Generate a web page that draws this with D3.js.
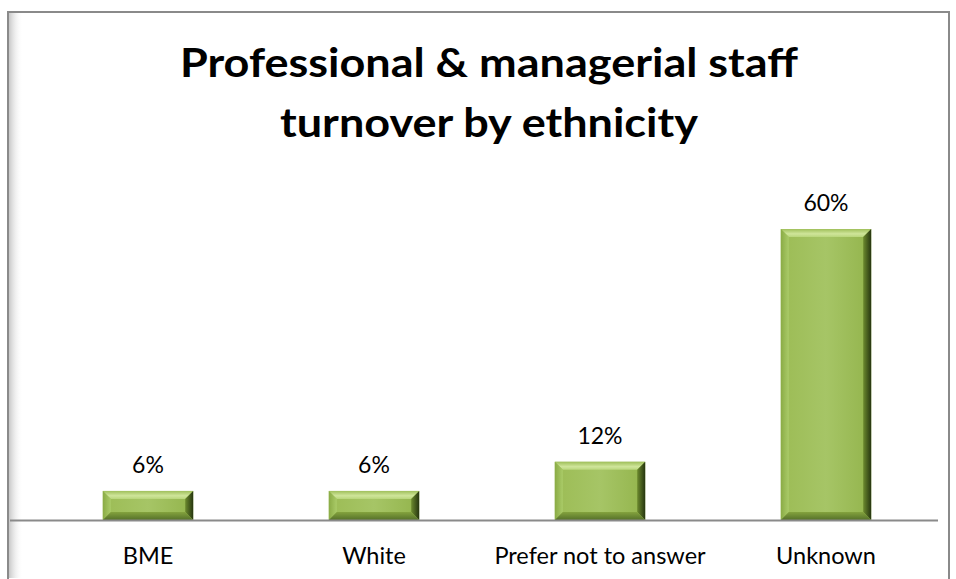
<!DOCTYPE html>
<html>
<head>
<meta charset="utf-8">
<script src="https://cdn.jsdelivr.net/npm/d3@7"></script>
<style>
  html, body { margin: 0; padding: 0; background: #fff; }
  svg { display: block; font-family: Lato, "Open Sans", sans-serif; }
</style>
</head>
<body>
<svg id="chart" width="956" height="579"></svg>
<script>
  const categories = ["BME", "White", "Prefer not to answer", "Unknown"];
  const values = [0.06, 0.06, 0.12, 0.60];
  const titleLines = ["Professional & managerial staff", "turnover by ethnicity"];

  const svg = d3.select("#chart");
  const W = 956, H = 579;

  const defs = svg.append("defs");

  // inner shadow on the left edge of the frame
  const shadow = defs.append("linearGradient").attr("id", "frameShadow");
  shadow.append("stop").attr("offset", "0%").attr("stop-color", "#c8c8c8");
  shadow.append("stop").attr("offset", "100%").attr("stop-color", "#fff").attr("stop-opacity", 0);

  // bar face
  const face = defs.append("linearGradient").attr("id", "barFace");
  face.append("stop").attr("offset", "0%").attr("stop-color", "#9cbc55");
  face.append("stop").attr("offset", "50%").attr("stop-color", "#a6c566");
  face.append("stop").attr("offset", "100%").attr("stop-color", "#93b44c");

  const topBevel = defs.append("linearGradient").attr("id", "barTop")
    .attr("x1", 0).attr("y1", 0).attr("x2", 0).attr("y2", 1);
  topBevel.append("stop").attr("offset", "0%").attr("stop-color", "#9fbf5a");
  topBevel.append("stop").attr("offset", "60%").attr("stop-color", "#cfe59a");
  topBevel.append("stop").attr("offset", "100%").attr("stop-color", "#b9d67c");

  const rightBevel = defs.append("linearGradient").attr("id", "barRight");
  rightBevel.append("stop").attr("offset", "0%").attr("stop-color", "#6c8a2e");
  rightBevel.append("stop").attr("offset", "100%").attr("stop-color", "#263510");

  const leftBevel = defs.append("linearGradient").attr("id", "barLeft");
  leftBevel.append("stop").attr("offset", "0%").attr("stop-color", "#8aab45");
  leftBevel.append("stop").attr("offset", "100%").attr("stop-color", "#aacb68");

  const bottomBevel = defs.append("linearGradient").attr("id", "barBottom")
    .attr("x1", 0).attr("y1", 0).attr("x2", 0).attr("y2", 1);
  bottomBevel.append("stop").attr("offset", "0%").attr("stop-color", "#84a33e");
  bottomBevel.append("stop").attr("offset", "100%").attr("stop-color", "#55702a");

  // frame
  svg.append("rect").attr("x", 9).attr("y", 13).attr("width", 14).attr("height", H - 14)
    .attr("fill", "url(#frameShadow)");
  svg.append("rect")
    .attr("x", 8).attr("y", 12).attr("width", 941).attr("height", 580)
    .attr("fill", "none").attr("stroke", "#8a8a8a").attr("stroke-width", 2);

  // title: Lato is wider than the original face, so squeeze it to the reference width
  const title = svg.append("g").attr("font-weight", "bold").attr("fill", "#000")
    .attr("text-anchor", "middle").attr("font-size", 40);
  const tl = title.selectAll("text").data(titleLines).join("text")
    .attr("x", 489)
    .attr("y", (d, i) => 77 + i * 60)
    .text(d => d);
  const k = 618 / tl.nodes()[0].getComputedTextLength();
  tl.each(function () {
    const len = this.getComputedTextLength();
    d3.select(this).attr("textLength", len * k).attr("lengthAdjust", "spacingAndGlyphs");
  });

  const x = d3.scaleBand().domain(categories).range([35, 939]).paddingInner(0.6).paddingOuter(0.3);
  const y = d3.scaleLinear().domain([0, 0.6]).range([520, 229]);

  const fmt = d3.format(".0%");

  const bars = svg.append("g").selectAll("g")
    .data(categories.map((c, i) => ({ c, v: values[i] })))
    .join("g");

  const b = 8; // bevel size
  bars.each(function (d) {
    const g = d3.select(this);
    const x0 = x(d.c), x1 = x0 + x.bandwidth();
    const y0 = y(d.v), y1 = y(0);
    g.append("rect").attr("x", x0).attr("y", y0).attr("width", x1 - x0).attr("height", y1 - y0)
      .attr("fill", "url(#barFace)");
    g.append("polygon").attr("fill", "url(#barTop)")
      .attr("points", [[x0, y0], [x1, y0], [x1 - b, y0 + b], [x0 + b, y0 + b]].join(" "));
    g.append("polygon").attr("fill", "url(#barLeft)")
      .attr("points", [[x0, y0], [x0 + b, y0 + b], [x0 + b, y1 - b], [x0, y1]].join(" "));
    g.append("polygon").attr("fill", "url(#barRight)")
      .attr("points", [[x1, y0], [x1, y1], [x1 - b, y1 - b], [x1 - b, y0 + b]].join(" "));
    g.append("polygon").attr("fill", "url(#barBottom)")
      .attr("points", [[x0, y1], [x0 + b, y1 - b], [x1 - b, y1 - b], [x1, y1]].join(" "));
  });

  bars.append("text")
    .attr("x", d => x(d.c) + x.bandwidth() / 2)
    .attr("y", d => y(d.v) - 18)
    .attr("text-anchor", "middle")
    .attr("font-size", 23)
    .attr("fill", "#000")
    .text(d => fmt(d.v));

  // category axis
  const axis = svg.append("g").attr("transform", `translate(0,${y(0)})`)
    .call(d3.axisBottom(x).tickSize(0).tickPadding(27));
  axis.select(".domain").attr("d", "M10,0.5H938").attr("stroke", "#8a8a8a").attr("stroke-width", 2);
  axis.selectAll("text").attr("font-size", 23.5).attr("font-family", "Lato, 'Open Sans', sans-serif")
    .attr("fill", "#000");
</script>
</body>
</html>
